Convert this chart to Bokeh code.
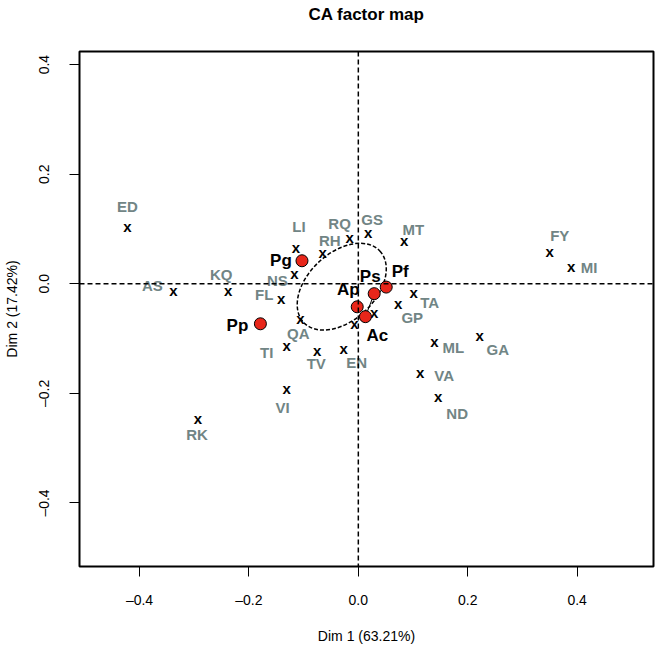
from bokeh.plotting import figure
from bokeh.models import FixedTicker, Range1d, ColumnDataSource, Span, LinearAxis
from bokeh.core.properties import value
from bokeh.embed import file_html
from bokeh.resources import INLINE

# ---- data ----
col_names = ["ED", "AS", "KQ", "LI", "RH", "RQ", "GS", "MT", "NS", "FL", "QA", "TI", "TV",
             "EN", "VI", "RK", "TA", "GP", "ML", "GA", "VA", "ND", "FY", "MI", "", ""]
col_x = [-0.422, -0.338, -0.238, -0.114, -0.065, -0.016, 0.018, 0.084, -0.117, -0.141, -0.106,
         -0.131, -0.075, -0.027, -0.131, -0.293, 0.101, 0.073, 0.139, 0.222, 0.113, 0.146,
         0.350, 0.389, -0.007, 0.029]
col_y = [0.103, -0.014, -0.014, 0.065, 0.056, 0.083, 0.091, 0.077, 0.017, -0.028, -0.065,
         -0.114, -0.123, -0.120, -0.192, -0.248, -0.018, -0.038, -0.108, -0.096, -0.164, -0.208,
         0.057, 0.029, -0.074, -0.055]

row_names = ["Pg", "Pp", "Ps", "Pf", "Ap", "Ac"]
row_x = [-0.103, -0.179, 0.029, 0.051, -0.002, 0.013]
row_y = [0.042, -0.073, -0.018, -0.006, -0.042, -0.060]

# confidence ellipse (centre, full axes, angle in radians)
ell_x = [-0.0303]
ell_y = [-0.0053]
ell_w = [0.191]
ell_h = [0.123]
ell_angle = [0.754]

ticks = [-0.4, -0.2, 0.0, 0.2, 0.4]
tick_labels = ["\u20130.4", "\u20130.2", "0.0", "0.2", "0.4"]

# ---- label placement (screen pixel offsets) ----
col_dx = [0, -21, -7, 3, 7, -10, 4, 9, -17, -17, -2, -20, -1, 13, -4, -1, 16, 14, 19, 18, 24, 19, 10, 18, 0, 0]
col_dy = [-21, -6, -17, -22, -13, -15, -14, -12, 6, -5, 14, 6, 12, 13, 18, 15, 9, 13, 5, 13, 2, 16, -17, 0, 0, 0]
row_dx = [-21, -23, -4, 14, -9, 12]
row_dy = [0, 2, -17, -16, -17, 19]

FONT = "Liberation Sans"
GREY = "#718585"

X0, X1 = -0.5097, 0.5396
Y0, Y1 = -0.5159, 0.4239

p = figure(width=661, height=646, output_backend="svg", toolbar_location=None,
           x_range=Range1d(X0, X1), y_range=Range1d(Y0, Y1),
           min_border_left=78, min_border_right=8, min_border_top=51, min_border_bottom=80)

xb = p.below[0]
yl = p.left[0]

p.grid.visible = False
p.outline_line_color = "black"
p.outline_line_width = 2
p.background_fill_color = "white"

for ax in (xb, yl):
    ax.ticker = FixedTicker(ticks=ticks)
    ax.major_label_overrides = {t: l for t, l in zip(ticks, tick_labels)}
    ax.axis_line_color = None
    ax.major_tick_out = 10
    ax.major_tick_in = 0
    ax.major_tick_line_width = 1
    ax.minor_tick_line_color = None
    ax.major_label_text_font = FONT
    ax.major_label_text_font_size = "14px"
    ax.major_label_text_color = "black"
    ax.axis_label_text_font = FONT
    ax.axis_label_text_font_size = "14px"
    ax.axis_label_text_font_style = "normal"
    ax.axis_label_text_color = "black"

xb.axis_label = "Dim 1 (63.21%)"
yl.axis_label = "Dim 2 (17.42%)"
xb.major_label_standoff = 15
yl.major_label_standoff = 17
yl.major_label_orientation = "vertical"
xb.axis_label_standoff = 17
yl.axis_label_standoff = 14

# title drawn as the label of a tick-less axis above the frame
title_axis = LinearAxis(ticker=FixedTicker(ticks=[]), axis_label="CA factor map",
                        axis_line_color=None, major_tick_line_color=None,
                        minor_tick_line_color=None, major_tick_out=0, major_tick_in=0,
                        major_label_text_font_size="0px", axis_label_standoff=28,
                        axis_label_text_font=FONT, axis_label_text_font_size="17px",
                        axis_label_text_font_style="bold", axis_label_text_color="black")
p.add_layout(title_axis, "above")

# dashed axes through origin
p.add_layout(Span(location=0, dimension="width", line_color="black", line_width=1.5, line_dash="5 3"))
p.add_layout(Span(location=0, dimension="height", line_color="black", line_width=1.5, line_dash="5 3"))

# ellipse
p.ellipse(x=ell_x, y=ell_y, width=ell_w, height=ell_h, angle=ell_angle,
          fill_color=None, line_color="black", line_width=1.5, line_dash="4 2")

# segment between Ps and Ac
iPs, iAc = row_names.index("Ps"), row_names.index("Ac")
p.line(x=[row_x[iPs], row_x[iAc]], y=[row_y[iPs], row_y[iAc]], line_color="black", line_width=1)

# column points (x marks) and labels
csrc = ColumnDataSource(dict(x=col_x, y=col_y, name=col_names, dx=col_dx, dy=col_dy,
                             mark=["x"] * len(col_x)))
p.text(x="x", y="y", text="mark", source=csrc, text_font=value(FONT), text_font_style="bold",
       text_font_size="15px", text_color="black", text_align="center", text_baseline="middle",
       y_offset=-1)
p.text(x="x", y="y", text="name", source=csrc, x_offset="dx", y_offset="dy",
       text_font=value(FONT), text_font_style="bold", text_font_size="15px", text_color=GREY,
       text_align="center", text_baseline="middle")

# row points
rsrc = ColumnDataSource(dict(x=row_x, y=row_y, name=row_names, dx=row_dx, dy=row_dy))
p.scatter(x="x", y="y", source=rsrc, size=12, fill_color="#E8261A", line_color="black", line_width=1)
p.text(x="x", y="y", text="name", source=rsrc, x_offset="dx", y_offset="dy",
       text_font=value(FONT), text_font_style="bold", text_font_size="17px", text_color="black",
       text_align="center", text_baseline="middle")

open("out.html", "w").write(file_html(p, INLINE))
